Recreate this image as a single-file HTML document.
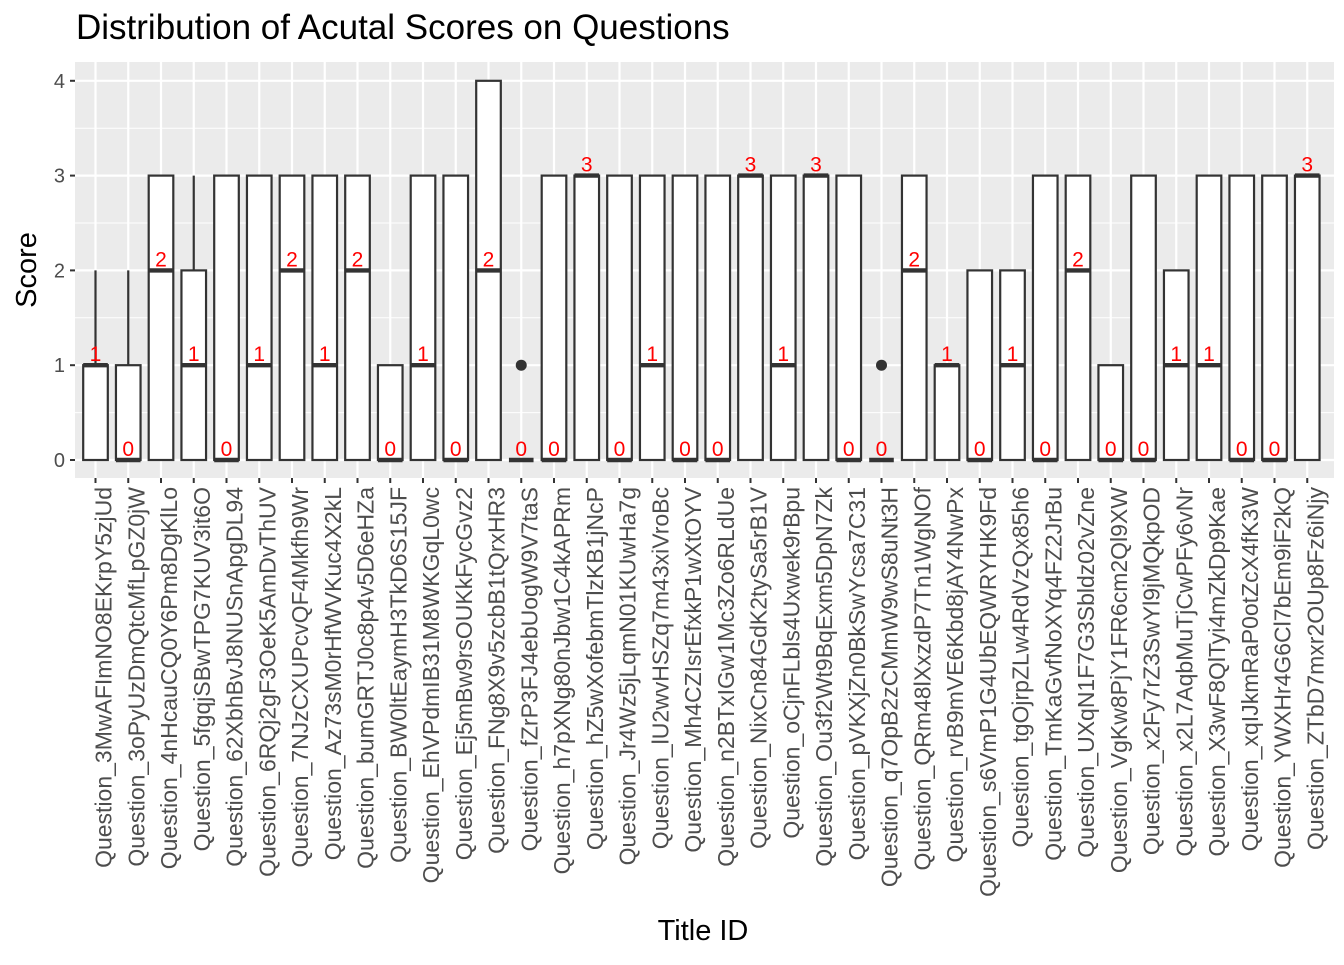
<!DOCTYPE html>
<html><head><meta charset="utf-8"><style>
body{margin:0;background:#fff;}
svg text{font-family:"Liberation Sans",Arial,sans-serif;}
</style></head><body>
<svg id="chart" width="1344" height="960" xmlns="http://www.w3.org/2000/svg">
<text x="76" y="39" font-size="35" fill="#000">Distribution of Acutal Scores on Questions</text>
<rect x="75" y="62" width="1259" height="416" fill="#ebebeb"/>
<g id="grid"></g><g id="marks"></g><g id="axes"></g>
<text transform="translate(36,270) rotate(-90)" text-anchor="middle" font-size="29" fill="#000">Score</text>
<text x="703" y="940" text-anchor="middle" font-size="29" fill="#000">Title ID</text>
</svg>
<script>
const categories=["Question_3MwAFImNO8EKrpY5zjUd","Question_3oPyUzDmQtcMfLpGZ0jW","Question_4nHcauCQ0Y6Pm8DgKlLo","Question_5fgqjSBwTPG7KUV3it6O","Question_62XbhBvJ8NUSnApgDL94","Question_6RQj2gF3OeK5AmDvThUV","Question_7NJzCXUPcvQF4Mkfh9Wr","Question_Az73sM0rHfWVKuc4X2kL","Question_bumGRTJ0c8p4v5D6eHZa","Question_BW0ltEaymH3TkD6S15JF","Question_EhVPdmIB31M8WKGqL0wc","Question_Ej5mBw9rsOUKkFycGvz2","Question_FNg8X9v5zcbB1tQrxHR3","Question_fZrP3FJ4ebUogW9V7taS","Question_h7pXNg80nJbw1C4kAPRm","Question_hZ5wXofebmTlzKB1jNcP","Question_Jr4Wz5jLqmN01KUwHa7g","Question_lU2wvHSZq7m43xiVroBc","Question_Mh4CZIsrEfxkP1wXtOYV","Question_n2BTxIGw1Mc3Zo6RLdUe","Question_NixCn84GdK2tySa5rB1V","Question_oCjnFLbls4Uxwek9rBpu","Question_Ou3f2Wt9BqExm5DpN7Zk","Question_pVKXjZn0BkSwYcsa7C31","Question_q7OpB2zCMmW9wS8uNt3H","Question_QRm48lXxzdP7Tn1WgNOf","Question_rvB9mVE6Kbd8jAY4NwPx","Question_s6VmP1G4UbEQWRYHK9Fd","Question_tgOjrpZLw4RdVzQx85h6","Question_TmKaGvfNoXYq4FZ2JrBu","Question_UXqN1F7G3Sbldz02vZne","Question_VgKw8PjY1FR6cm2Ql9XW","Question_x2Fy7rZ3SwYl9jMQkpOD","Question_x2L7AqbMuTjCwPFy6vNr","Question_X3wF8QlTyi4mZkDp9Kae","Question_xqIJkmRaP0otZcX4fK3W","Question_YWXHr4G6Cl7bEm9iF2kQ","Question_ZTbD7mxr2OUp8Fz6iNjy"];
const q1=[0,0,0,0,0,0,0,0,0,0,0,0,0,0,0,0,0,0,0,0,0,0,0,0,0,0,0,0,0,0,0,0,0,0,0,0,0,0];
const medians=[1,0,2,1,0,1,2,1,2,0,1,0,2,0,0,3,0,1,0,0,3,1,3,0,0,2,1,0,1,0,2,0,0,1,1,0,0,3];
const q3=[1,1,3,2,3,3,3,3,3,1,3,3,4,0,3,3,3,3,3,3,3,3,3,3,0,3,1,2,2,3,3,1,3,2,3,3,3,3];
const whiskerHi=[2,2,3,3,3,3,3,3,3,1,3,3,4,0,3,3,3,3,3,3,3,3,3,3,0,3,1,2,2,3,3,1,3,2,3,3,3,3];
const outliers=[null,null,null,null,null,null,null,null,null,null,null,null,null,1,null,null,null,null,null,null,null,null,null,null,1,null,null,null,null,null,null,null,null,null,null,null,null,null];
const yTicks=[0,1,2,3,4];
const NS="http://www.w3.org/2000/svg";
const y=v=>460-v*94.8;
const x=i=>95.5+i*32.75;
const bw=24.6;
function mk(tag,attrs,parent){const e=document.createElementNS(NS,tag);for(const k in attrs)e.setAttribute(k,attrs[k]);parent.appendChild(e);return e;}
const grid=document.getElementById('grid'),marks=document.getElementById('marks'),axes=document.getElementById('axes');
for(let v=-0.5;v<=4.5;v+=0.5){const yy=y(v);if(yy<62||yy>478)continue;const major=Number.isInteger(v);
 const l=mk('line',{x1:75,x2:1334,y1:yy,y2:yy,stroke:'#fff','stroke-width':major?2.2:1},grid);
 }
categories.forEach((c,i)=>{const l=mk('line',{x1:x(i),x2:x(i),y1:62,y2:478,stroke:'#fff','stroke-width':2.2},grid);
 });
yTicks.forEach(v=>{
 const t=mk('line',{x1:70,x2:75,y1:y(v),y2:y(v),stroke:'#333','stroke-width':2},axes);
 
 const tx=mk('text',{x:65,y:y(v)+7,'text-anchor':'end','font-size':20,fill:'#4d4d4d'},axes);tx.textContent=v;
 });
categories.forEach((c,i)=>{const cx=x(i);
 const g=mk('g',{},marks);
 
 if(whiskerHi[i]>q3[i]){const w=mk('line',{x1:cx,x2:cx,y1:y(q3[i]),y2:y(whiskerHi[i]),stroke:'#333','stroke-width':2.2},g);
  }
 const r=mk('rect',{x:cx-bw/2,y:y(q3[i]),width:bw,height:Math.max(0,y(q1[i])-y(q3[i])),fill:'#fff',stroke:'#333','stroke-width':2.2},g);
 
 const m=mk('line',{x1:cx-bw/2,x2:cx+bw/2,y1:y(medians[i]),y2:y(medians[i]),stroke:'#333','stroke-width':4.4},g);
 
 if(outliers[i]!==null){const o=mk('circle',{cx:cx,cy:y(outliers[i]),r:5.5,fill:'#333'},g);
  }
 const lb=mk('text',{x:cx,y:y(medians[i])-4,'text-anchor':'middle','font-size':21,fill:'#ff0000'},g);lb.textContent=medians[i];
 
 const t=mk('line',{x1:cx,x2:cx,y1:478,y2:483,stroke:'#333','stroke-width':2},axes);
 
 const tx=mk('text',{transform:`translate(${cx+16},487) rotate(-90)`,'text-anchor':'end','font-size':23,fill:'#4d4d4d'},axes);tx.textContent=c;
 
});
</script>
</body></html>
